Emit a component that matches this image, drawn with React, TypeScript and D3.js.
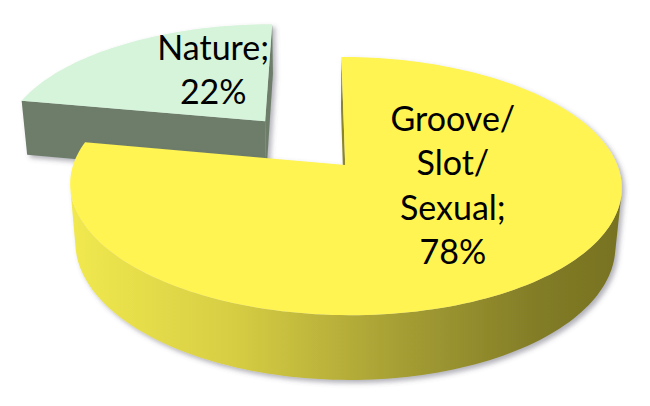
import * as d3 from "d3";

// chart data
const categories = ["Groove/Slot/Sexual", "Nature"];
const shares = [78, 22];

// layout / camera for the tilted 3D pie
const W = 650;
const H = 406;
const view = { cx: 318, cy: 165, f: 1480, dist: 5.44, sinT: 0.462, camX: -0.1, depth: 0.243 };
const explode = [0, 0.48];
const labelSpot = [
  { frac: 0.4, r: 0.414 },
  { frac: 0.68, r: 0.545 },
];
const topFill = ["#FFF451", "#D6F4DA"];
const wallFill = ["url(#yellowWall)", "#687765"];
const faceFill = ["#8C8629", "#6E7D6B"];
const fontSize = 34;
const lineGap = 44.5;
const capH = 24;

type Pt = [number, number];

const labelLines = (cat: string, v: number) => {
  const parts = cat.split(/(?<=\/)/);
  parts[parts.length - 1] += ";";
  return [...parts, `${v}%`];
};

const App: React.FC = () => {
  const { cx, cy, f, dist, sinT, camX, depth } = view;
  const cosT = Math.sqrt(1 - sinT * sinT);
  const cam = { x: camX, h: dist * sinT, z: dist * cosT };

  // world (x, h, z) -> screen
  const project = (x: number, h: number, z: number): Pt => {
    const d = dist - (z * cosT + h * sinT);
    const v = z * sinT - h * cosT;
    return [cx + (f * (x - camX)) / d, cy + (f * v) / d];
  };

  const arcs = d3
    .pie<number>()
    .sort(null)
    .startAngle(0)
    .endAngle(2 * Math.PI)(shares);

  const line = d3.line<Pt>();
  const steps = 240;

  const slices = arcs.map((a, i) => {
    const mid = (a.startAngle + a.endAngle) / 2;
    const ox = Math.sin(mid) * explode[i];
    const oz = -Math.cos(mid) * explode[i];
    const rim = (t: number, h: number) => project(ox + Math.sin(t), h, oz - Math.cos(t));
    const n = Math.max(8, Math.round((steps * (a.endAngle - a.startAngle)) / (2 * Math.PI)));
    const ts = d3.range(n + 1).map((k) => a.startAngle + ((a.endAngle - a.startAngle) * k) / n);

    const top = line([project(ox, 0, oz), ...ts.map((t) => rim(t, 0))]) + "Z";

    // outer wall, only the part facing the camera
    const seen = (t: number) => {
      const px = ox + Math.sin(t);
      const pz = oz - Math.cos(t);
      return Math.sin(t) * (cam.x - px) - Math.cos(t) * (cam.z - pz) > 0;
    };
    const runs: number[][] = [];
    let cur: number[] = [];
    ts.forEach((t) => {
      if (seen(t)) cur.push(t);
      else if (cur.length) {
        runs.push(cur);
        cur = [];
      }
    });
    if (cur.length) runs.push(cur);
    const wallPts: Pt[] = [];
    const walls = runs
      .filter((r) => r.length > 1)
      .map((r) => {
        const upper = r.map((t) => rim(t, 0));
        const lower = r.map((t) => rim(t, -depth)).reverse();
        wallPts.push(...upper, ...lower);
        return line([...upper, ...lower]) + "Z";
      });

    // radial faces
    const faces: string[] = [];
    const radial = (t: number, nx: number, nz: number) => {
      if (nx * (cam.x - ox) + nz * (cam.z - oz) <= 0) return;
      faces.push(
        line([project(ox, 0, oz), rim(t, 0), rim(t, -depth), project(ox, -depth, oz)]) + "Z"
      );
    };
    radial(a.startAngle, -Math.cos(a.startAngle), -Math.sin(a.startAngle));
    radial(a.endAngle, Math.cos(a.endAngle), Math.sin(a.endAngle));

    const lt = a.startAngle + (a.endAngle - a.startAngle) * labelSpot[i].frac;
    const r = labelSpot[i].r;
    const [lx, ly] = project(ox + r * Math.sin(lt), 0, oz - r * Math.cos(lt));
    const lines = labelLines(categories[i], shares[i]);
    const firstBase = ly - ((lines.length - 1) * lineGap + capH) / 2 + capH;

    return { i, oz, top, walls, wallPts, faces, lx, firstBase, lines };
  });

  const order = [...slices].sort((p, q) => p.oz - q.oz);
  const xr = d3.extent(slices[0].wallPts, (p) => p[0]) as [number, number];

  return (
    <svg
      width={W}
      height={H}
      style={{ position: "absolute", left: 0, top: 0, background: "#fff" }}
    >
      <defs>
        <linearGradient id="yellowWall" gradientUnits="userSpaceOnUse" x1={xr[0]} x2={xr[1]} y1={0} y2={0}>
          <stop offset="0" stopColor="#F1E94F" />
          <stop offset="0.3" stopColor="#D6CD43" />
          <stop offset="0.6" stopColor="#A59E34" />
          <stop offset="0.85" stopColor="#827C27" />
          <stop offset="1" stopColor="#77721F" />
        </linearGradient>
        <filter id="shade" x="-10%" y="-10%" width="120%" height="130%">
          <feDropShadow dx="3" dy="3" stdDeviation="2.5" floodColor="#556" floodOpacity="0.45" />
        </filter>
      </defs>
      {order.map((s) => (
        <g key={s.i} filter="url(#shade)">
          {s.faces.map((d, k) => (
            <path key={"f" + k} d={d} fill={faceFill[s.i]} />
          ))}
          {s.walls.map((d, k) => (
            <path key={"w" + k} d={d} fill={wallFill[s.i]} />
          ))}
          <path d={s.top} fill={topFill[s.i]} />
        </g>
      ))}
      {order.map((s) => (
        <text
          key={"t" + s.i}
          textAnchor="middle"
          fontFamily="Lato, 'Open Sans', sans-serif"
          fontSize={fontSize}
          fill="#000"
        >
          {s.lines.map((l, k) => (
            <tspan key={k} x={s.lx} y={s.firstBase + k * lineGap}>
              {l}
            </tspan>
          ))}
        </text>
      ))}
    </svg>
  );
};

export default App;
